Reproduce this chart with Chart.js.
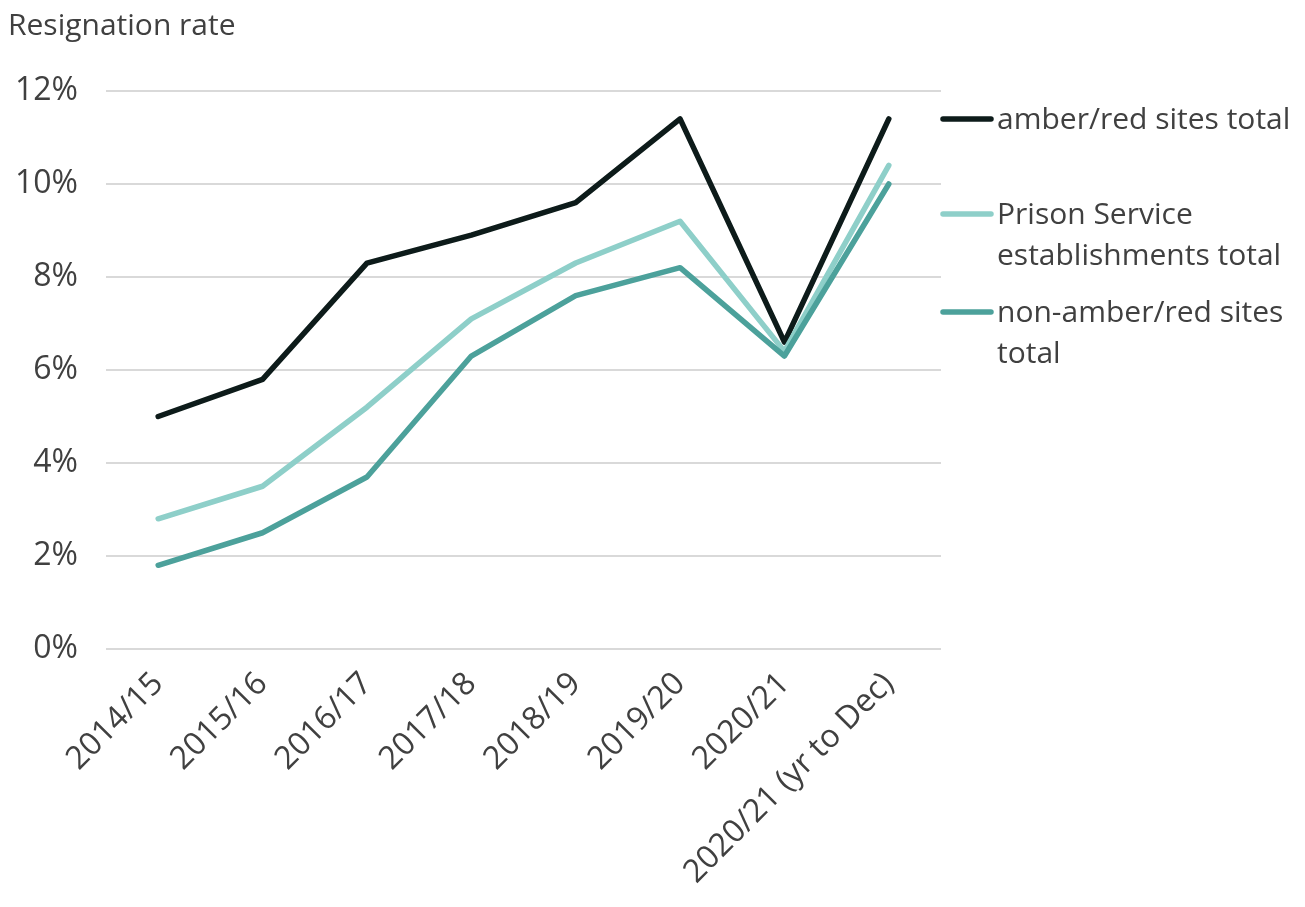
<!DOCTYPE html>
<html>
<head>
<meta charset="utf-8">
<script src="https://cdn.jsdelivr.net/npm/chart.js@4/dist/chart.umd.min.js"></script>
<style>
  html, body { margin: 0; padding: 0; background: #ffffff; }
  #wrap { position: relative; width: 1305px; height: 907px; }
</style>
</head>
<body>
<div id="wrap"><canvas id="chart" width="1305" height="907"></canvas></div>
<script>
// Resignation rates by financial year (%)
const categories = ['2014/15', '2015/16', '2016/17', '2017/18', '2018/19', '2019/20', '2020/21', '2020/21 (yr to Dec)'];
const amberRedSites = [5.0, 5.8, 8.3, 8.9, 9.6, 11.4, 6.6, 11.4];
const prisonServiceTotal = [2.8, 3.5, 5.2, 7.1, 8.3, 9.2, 6.4, 10.4];
const nonAmberRedSites = [1.8, 2.5, 3.7, 6.3, 7.6, 8.2, 6.3, 10.0];

const seriesNames = ['amber/red sites total', 'Prison Service establishments total', 'non-amber/red sites total'];
const legendLines = [['amber/red sites total'], ['Prison Service', 'establishments total'], ['non-amber/red sites', 'total']];
const yTicks = [0, 2, 4, 6, 8, 10, 12];
const axisTitle = 'Resignation rate';

const FONT = "'Open Sans', 'Noto Sans', sans-serif";
const TEXT = '#404040';
const colours = ['#0d1b1a', '#8ecfc9', '#4ca19b'];

// Axis caption and the wrapped legend on the right
const annotations = {
  id: 'annotations',
  afterDraw(chart) {
    const ctx = chart.ctx;
    ctx.save();
    ctx.fillStyle = TEXT;
    ctx.font = '30px ' + FONT;
    ctx.textBaseline = 'middle';
    ctx.textAlign = 'left';
    ctx.fillText(axisTitle, 8, 26);

    const itemY = [119, 214, 312];
    const lineGap = 41;
    chart.data.datasets.forEach((ds, i) => {
      const y = itemY[i];
      ctx.strokeStyle = ds.borderColor;
      ctx.lineWidth = 5.5;
      ctx.lineCap = 'round';
      ctx.beginPath();
      ctx.moveTo(943, y);
      ctx.lineTo(991, y);
      ctx.stroke();
      ctx.fillStyle = TEXT;
      legendLines[i].forEach((t, k) => ctx.fillText(t, 997, y + k * lineGap + 1));
    });
    ctx.restore();
  }
};

const makeSet = (label, data, colour) => ({
  label, data,
  borderColor: colour,
  backgroundColor: colour,
  borderWidth: 5.5,
  borderCapStyle: 'round',
  borderJoinStyle: 'round',
  pointRadius: 0,
  pointHoverRadius: 0,
  tension: 0,
  fill: false
});

new Chart(document.getElementById('chart'), {
  type: 'line',
  data: {
    labels: categories,
    datasets: [
      Object.assign(makeSet(seriesNames[0], amberRedSites, colours[0]), { order: 3 }),
      Object.assign(makeSet(seriesNames[1], prisonServiceTotal, colours[1]), { order: 2 }),
      Object.assign(makeSet(seriesNames[2], nonAmberRedSites, colours[2]), { order: 1 })
    ]
  },
  options: {
    responsive: false,
    animation: false,
    devicePixelRatio: 1,
    layout: { padding: { top: 91, right: 364, bottom: 0, left: 0 } },
    plugins: {
      legend: { display: false },
      title: { display: false },
      tooltip: { enabled: false }
    },
    scales: {
      x: {
        offset: true,
        grid: { display: false, drawTicks: false },
        border: { display: false },
        ticks: {
          color: TEXT,
          font: { family: FONT, size: 32 },
          maxRotation: 45,
          minRotation: 45,
          autoSkip: false,
          padding: 16
        },
        afterFit(scale) { scale.height = 258; }
      },
      y: {
        min: 0,
        max: 12,
        grid: { color: '#d9d9d9', lineWidth: 2, drawTicks: false },
        border: { display: false },
        afterBuildTicks(scale) { scale.ticks = yTicks.map(v => ({ value: v })); },
        ticks: {
          color: TEXT,
          font: { family: FONT, size: 32 },
          padding: 28,
          callback: v => v + '%'
        },
        afterFit(scale) { scale.width = 106; }
      }
    }
  },
  plugins: [annotations]
});
</script>
</body>
</html>
